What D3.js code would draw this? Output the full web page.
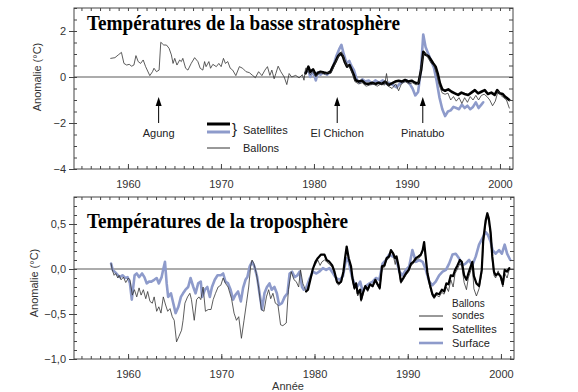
<!DOCTYPE html>
<html><head><meta charset="utf-8">
<script src="https://cdn.jsdelivr.net/npm/d3@7"></script>
<style>
body{margin:0;background:#fff}
svg{display:block}
text{font-family:"Liberation Sans",Arial,sans-serif}
</style>
</head><body>
<svg id="chart" width="578" height="392"></svg>
<script>
// ---------- DATA ----------
const yearTicks = [1960, 1970, 1980, 1990, 2000];
const stratoTicks = [-4, -2, 0, 2];
const tropoTicks = [-1, -0.5, 0, 0.5];

const stratoTitle = "Températures de la basse stratosphère";
const tropoTitle = "Températures de la troposphère";

const volcanoes = [
  {name: "Agung", year: 1963.3},
  {name: "El Chichon", year: 1982.5},
  {name: "Pinatubo", year: 1991.7}
];

// Lower stratosphere – radiosondes (Ballons)
const stratoBallons = [
 [1958.15,0.81],[1958.6,0.84],[1958.96,0.96],[1959.3,1.07],[1959.57,0.59],[1959.86,0.52],[1960.14,0.55],[1960.4,0.47],
 [1960.64,0.52],[1960.86,0.93],[1961.1,0.67],[1961.36,0.59],[1961.64,0.74],[1961.9,0.45],[1962.35,0.06],[1962.64,0.23],
 [1962.8,0.38],[1963.07,0.23],[1963.35,0.30],[1963.53,1.51],[1963.85,1.39],[1964.14,1.39],[1964.42,1.25],[1964.67,0.96],
 [1964.85,0.59],[1965.03,0.81],[1965.27,0.52],[1965.56,0.74],[1965.74,0.67],[1965.9,0.81],[1966.2,0.38],[1966.45,0.30],
 [1966.8,0.59],[1967.17,0.84],[1967.52,0.67],[1967.77,0.38],[1968.05,0.30],[1968.24,0.67],[1968.4,0.45],[1968.7,0.67],
 [1968.88,0.38],[1969.13,0.55],[1969.5,0.45],[1969.77,0.59],[1970.02,0.45],[1970.27,0.81],[1970.48,0.59],[1970.73,0.67],
 [1971.0,0.38],[1971.26,0.30],[1971.6,0.06],[1971.98,0.45],[1972.33,0.38],[1972.7,0.23],[1973.05,0.19],[1973.4,0.07],
 [1973.7,-0.03],[1974.05,0.23],[1974.4,0.06],[1974.73,0.30],[1975.0,0.45],[1975.26,0.07],[1975.47,0.30],[1975.72,-0.08],
 [1975.9,0.15],[1976.15,0.47],[1976.44,0.23],[1976.8,0.0],[1977.08,-0.33],[1977.33,0.15],[1977.6,0.0],[1978.04,0.07],
 [1978.4,-0.04],[1978.75,0.10],[1978.93,-0.14],[1979.1,0.38],[1979.3,0.30],[1979.6,0.10],[1979.9,0.25],[1980.2,0.0],
 [1980.5,0.15],[1980.8,0.20],[1981.1,0.12],[1981.5,0.20],[1981.8,0.15],[1982.1,0.40],[1982.4,0.70],[1982.7,0.95],
 [1982.95,1.10],[1983.2,0.85],[1983.5,0.50],[1983.8,0.45],[1984.1,0.20],[1984.4,-0.20],[1984.8,-0.30],[1985.2,-0.25],
 [1985.6,-0.40],[1986.0,-0.35],[1986.4,-0.30],[1986.8,-0.40],[1987.2,-0.30],[1987.6,-0.35],[1987.8,0.15],[1988.0,-0.40],
 [1988.4,-0.50],[1988.8,-0.30],[1989.1,-0.60],[1989.4,-0.30],[1989.8,-0.20],[1990.2,-0.30],[1990.6,-0.25],[1991.0,-0.35],
 [1991.3,-0.20],[1991.55,0.50],[1991.8,1.00],[1992.0,1.05],[1992.3,0.80],[1992.6,0.60],[1992.9,0.50],[1993.2,0.10],
 [1993.5,-0.40],[1993.8,-0.70],[1994.1,-0.75],[1994.4,-0.70],[1994.7,-1.00],[1995.0,-0.85],[1995.3,-1.05],[1995.6,-0.90],
 [1995.9,-1.15],[1996.2,-0.90],[1996.5,-1.10],[1996.8,-0.85],[1997.1,-1.00],[1997.4,-0.80],[1997.7,-1.00],[1998.0,-0.80],
 [1998.3,-0.75],[1998.6,-0.85],[1998.9,-1.00],[1999.2,-1.25],[1999.5,-1.05],[1999.8,-0.60],[2000.1,-0.80],[2000.4,-0.90],
 [2000.7,-1.00],[2001.0,-1.35]
];

// Lower stratosphere – satellites, black record
const stratoSatBlack = [
 [1979.1,0.16],[1979.4,0.45],[1979.6,0.23],[1979.9,0.33],[1980.2,0.09],[1980.46,0.19],[1980.7,0.23],[1981.07,0.19],
 [1981.4,0.16],[1981.78,0.23],[1982.03,0.45],[1982.32,0.67],[1982.6,0.91],[1982.86,1.03],[1983.1,0.91],[1983.3,0.67],
 [1983.56,0.45],[1983.82,0.52],[1984.03,0.33],[1984.28,0.09],[1984.46,-0.13],[1984.8,-0.20],[1985.17,-0.16],[1985.5,-0.28],
 [1985.9,-0.30],[1986.24,-0.25],[1986.6,-0.30],[1986.95,-0.25],[1987.3,-0.30],[1987.67,-0.20],[1988.02,-0.35],[1988.37,-0.28],
 [1988.74,-0.20],[1989.1,-0.16],[1989.44,-0.20],[1989.8,-0.13],[1990.16,-0.20],[1990.5,-0.16],[1990.88,-0.25],[1991.23,-0.28],
 [1991.52,0.30],[1991.76,1.10],[1992.0,0.97],[1992.3,0.91],[1992.59,0.74],[1992.83,0.59],[1993.08,0.45],[1993.3,0.16],
 [1993.55,-0.28],[1993.8,-0.54],[1994.1,-0.60],[1994.44,-0.54],[1994.8,-0.64],[1995.15,-0.71],[1995.5,-0.78],[1995.86,-0.68],
 [1996.2,-0.74],[1996.58,-0.78],[1996.93,-0.68],[1997.3,-0.57],[1997.65,-0.71],[1998.0,-0.64],[1998.36,-0.57],[1998.7,-0.74],
 [1999.07,-0.68],[1999.43,-0.78],[1999.7,-0.57],[1999.96,-0.71],[2000.3,-0.74],[2000.56,-0.86],[2000.78,-0.93],[2001.0,-1.00]
];

// Lower stratosphere – satellites, blue record
const stratoSatBlue = [
 [1979.1,0.20],[1979.4,0.30],[1979.6,0.00],[1979.9,0.25],[1980.2,-0.15],[1980.4,0.20],[1980.7,0.10],[1981.0,0.20],
 [1981.4,0.10],[1981.8,0.25],[1982.1,0.50],[1982.4,0.90],[1982.7,1.20],[1982.95,1.40],[1983.2,1.00],[1983.5,0.60],
 [1983.8,0.70],[1984.0,0.50],[1984.3,0.30],[1984.6,-0.10],[1984.9,-0.25],[1985.2,-0.10],[1985.5,-0.20],[1985.9,-0.15],
 [1986.2,-0.30],[1986.6,-0.15],[1987.0,-0.25],[1987.4,-0.15],[1987.8,-0.30],[1988.1,-0.25],[1988.5,-0.35],[1988.9,-0.45],
 [1989.2,-0.30],[1989.6,-0.20],[1990.0,-0.15],[1990.3,-0.30],[1990.6,-0.50],[1990.9,-0.80],[1991.2,-0.65],[1991.5,0.30],
 [1991.75,1.85],[1992.0,1.30],[1992.3,1.00],[1992.6,0.70],[1992.9,0.40],[1993.2,-0.20],[1993.5,-0.90],[1993.8,-1.40],
 [1994.1,-1.70],[1994.4,-1.50],[1994.7,-1.45],[1995.0,-1.30],[1995.3,-1.35],[1995.6,-1.40],[1995.9,-1.20],[1996.2,-1.35],
 [1996.5,-1.25],[1996.8,-1.40],[1997.1,-1.30],[1997.4,-1.10],[1997.7,-1.35],[1998.0,-1.20],[1998.2,-1.10]
];

// Troposphere – radiosondes (Ballons sondes)
const tropoBallons = [
 [1958.18,0.06],[1958.3,-0.01],[1958.5,-0.07],[1958.68,-0.05],[1958.9,-0.10],[1959.04,-0.07],[1959.25,-0.12],[1959.5,-0.09],
 [1959.75,-0.15],[1960.03,-0.10],[1960.2,-0.12],[1960.46,-0.29],[1960.68,-0.23],[1960.93,-0.31],[1961.18,-0.21],[1961.4,-0.29],
 [1961.64,-0.23],[1961.9,-0.33],[1962.1,-0.25],[1962.35,-0.36],[1962.6,-0.38],[1962.8,-0.31],[1963.07,-0.47],[1963.3,-0.42],
 [1963.53,-0.49],[1963.78,-0.31],[1964.03,-0.40],[1964.25,-0.47],[1964.5,-0.44],[1964.74,-0.53],[1964.95,-0.57],[1965.2,-0.81],
 [1965.45,-0.75],[1965.74,-0.68],[1965.9,-0.57],[1966.1,-0.38],[1966.38,-0.31],[1966.63,-0.27],[1966.8,-0.34],[1967.1,-0.57],
 [1967.35,-0.34],[1967.6,-0.31],[1967.8,-0.34],[1968.05,-0.20],[1968.3,-0.47],[1968.6,-0.45],[1968.9,-0.45],[1969.13,-0.34],
 [1969.38,-0.27],[1969.66,-0.20],[1969.95,-0.18],[1970.2,-0.10],[1970.45,-0.16],[1970.73,-0.20],[1971.1,-0.33],[1971.37,-0.49],
 [1971.63,-0.57],[1971.87,-0.53],[1972.16,-0.77],[1972.44,-0.57],[1972.7,-0.38],[1972.94,-0.20],[1973.15,0.03],[1973.3,0.10],
 [1973.5,0.06],[1973.76,-0.05],[1974.0,-0.20],[1974.3,-0.45],[1974.58,-0.47],[1974.84,-0.31],[1975.08,-0.23],[1975.3,-0.33],
 [1975.54,-0.27],[1975.8,-0.38],[1976.08,-0.40],[1976.36,-0.62],[1976.6,-0.63],[1976.97,-0.60],[1977.2,-0.23],[1977.5,-0.03],
 [1977.8,-0.12],[1978.04,-0.14],[1978.3,-0.20],[1978.5,-0.01],[1978.75,-0.16],[1979.1,-0.25],[1979.3,-0.20],[1979.55,-0.10],
 [1979.82,0.00],[1980.1,0.05],[1980.35,0.10],[1980.6,0.04],[1980.8,0.08],[1981.07,0.10],[1981.3,0.08],[1981.6,0.05],
 [1981.9,0.02],[1982.14,-0.05],[1982.4,-0.16],[1982.6,-0.18],[1982.86,-0.15],[1983.1,-0.05],[1983.3,0.12],[1983.45,0.22],
 [1983.67,0.10],[1983.92,0.00],[1984.1,-0.14],[1984.28,-0.23],[1984.46,-0.18],[1984.63,-0.30],[1984.9,-0.25],[1985.0,-0.36],
 [1985.24,-0.27],[1985.45,-0.20],[1985.7,-0.25],[1985.96,-0.18],[1986.24,-0.20],[1986.52,-0.14],[1986.77,-0.19],[1987.0,-0.23],
 [1987.24,0.01],[1987.5,0.02],[1987.74,0.10],[1988.0,0.12],[1988.2,0.20],[1988.45,0.15],[1988.66,0.05],[1988.8,0.12],
 [1989.02,0.00],[1989.27,-0.16],[1989.52,-0.12],[1989.8,-0.07],[1990.1,-0.03],[1990.36,0.04],[1990.6,0.06],[1990.88,0.10],
 [1991.16,0.12],[1991.4,0.14],[1991.6,0.19],[1991.76,0.28],[1991.94,0.10],[1992.12,-0.07],[1992.37,-0.20],[1992.65,-0.30],
 [1992.83,-0.33],[1993.08,-0.29],[1993.37,-0.31],[1993.66,-0.26],[1993.9,-0.28],[1994.15,-0.20],[1994.37,-0.25],[1994.62,-0.12],
 [1994.87,-0.20],[1995.08,-0.05],[1995.33,0.00],[1995.6,0.06],[1995.8,0.03],[1996.05,-0.15],[1996.3,-0.23],[1996.5,-0.10],
 [1996.76,-0.02],[1996.93,0.04],[1997.1,-0.22],[1997.37,-0.30],[1997.65,-0.22],[1997.94,-0.05],[1998.1,0.28],[1998.36,0.50],
 [1998.54,0.58],[1998.7,0.52],[1998.9,0.35],[1999.07,0.10],[1999.25,-0.07],[1999.43,-0.10],[1999.7,-0.02],[1999.96,-0.10],
 [2000.2,-0.20],[2000.4,-0.05],[2000.66,-0.10],[2000.9,0.00]
];

// Troposphere – satellites
const tropoSatellites = [
 [1979.1,-0.25],[1979.3,-0.23],[1979.55,-0.12],[1979.82,0.00],[1980.1,0.08],[1980.35,0.12],[1980.7,0.16],[1981.07,0.16],
 [1981.3,0.10],[1981.6,0.08],[1981.9,0.04],[1982.14,-0.03],[1982.4,-0.14],[1982.6,-0.16],[1982.86,-0.14],[1983.1,-0.03],
 [1983.3,0.14],[1983.45,0.25],[1983.67,0.12],[1983.92,0.03],[1984.1,-0.12],[1984.28,-0.21],[1984.46,-0.16],[1984.63,-0.27],
 [1984.9,-0.23],[1985.0,-0.34],[1985.24,-0.25],[1985.45,-0.19],[1985.7,-0.23],[1985.96,-0.17],[1986.24,-0.19],[1986.52,-0.12],
 [1986.77,-0.17],[1987.0,-0.21],[1987.24,0.03],[1987.5,0.04],[1987.74,0.12],[1988.0,0.14],[1988.2,0.21],[1988.45,0.17],
 [1988.66,0.12],[1988.8,0.14],[1989.02,0.03],[1989.27,-0.14],[1989.52,-0.10],[1989.8,-0.05],[1990.1,-0.01],[1990.36,0.06],
 [1990.6,0.08],[1990.88,0.12],[1991.16,0.14],[1991.4,0.16],[1991.6,0.21],[1991.76,0.30],[1991.94,0.12],[1992.12,-0.05],
 [1992.37,-0.17],[1992.65,-0.28],[1992.83,-0.31],[1993.08,-0.27],[1993.37,-0.28],[1993.66,-0.23],[1993.9,-0.25],[1994.15,-0.16],
 [1994.37,-0.17],[1994.62,-0.07],[1994.87,-0.08],[1995.08,-0.01],[1995.33,0.04],[1995.6,0.10],[1995.8,0.08],[1996.05,-0.07],
 [1996.3,-0.12],[1996.5,-0.05],[1996.76,0.03],[1996.93,0.08],[1997.1,-0.08],[1997.37,-0.16],[1997.65,-0.19],[1997.94,-0.01],
 [1998.1,0.32],[1998.36,0.54],[1998.54,0.62],[1998.7,0.56],[1998.9,0.40],[1999.07,0.14],[1999.25,-0.03],[1999.43,-0.07],
 [1999.7,-0.05],[1999.96,-0.08],[2000.2,-0.17],[2000.4,-0.01],[2000.66,-0.03],[2000.9,0.01]
];

// Troposphere – surface
const tropoSurface = [
 [1958.18,0.06],[1958.35,-0.01],[1958.75,-0.05],[1959.1,-0.09],[1959.4,-0.07],[1959.7,-0.10],[1959.95,-0.09],[1960.2,-0.16],
 [1960.4,-0.34],[1960.7,-0.07],[1960.93,-0.05],[1961.18,-0.09],[1961.5,-0.05],[1961.75,-0.09],[1962.0,-0.16],[1962.25,-0.14],
 [1962.5,-0.14],[1962.8,-0.12],[1963.07,-0.10],[1963.3,-0.16],[1963.6,-0.09],[1963.78,0.00],[1963.96,0.08],[1964.14,-0.16],
 [1964.3,-0.31],[1964.6,-0.27],[1964.85,-0.38],[1965.1,-0.49],[1965.4,-0.42],[1965.67,-0.31],[1965.9,-0.27],[1966.16,-0.23],
 [1966.45,-0.20],[1966.7,-0.10],[1967.0,-0.20],[1967.24,-0.27],[1967.52,-0.16],[1967.8,-0.14],[1967.95,-0.31],[1968.24,-0.23],
 [1968.5,-0.20],[1968.77,-0.31],[1969.0,-0.20],[1969.3,-0.12],[1969.6,-0.07],[1969.95,-0.07],[1970.2,-0.05],[1970.45,-0.14],
 [1970.73,-0.16],[1971.0,-0.23],[1971.27,-0.34],[1971.5,-0.29],[1971.8,-0.25],[1972.1,-0.36],[1972.34,-0.21],[1972.6,-0.12],
 [1972.8,-0.09],[1973.05,0.03],[1973.3,0.08],[1973.55,0.03],[1973.85,-0.09],[1974.1,-0.27],[1974.37,-0.45],[1974.63,-0.27],
 [1974.9,-0.20],[1975.17,-0.16],[1975.4,-0.23],[1975.7,-0.20],[1975.96,-0.27],[1976.2,-0.40],[1976.5,-0.38],[1976.8,-0.31],
 [1977.1,-0.27],[1977.33,-0.05],[1977.6,-0.03],[1977.87,-0.09],[1978.16,-0.07],[1978.4,-0.03],[1978.66,-0.20],[1978.85,-0.23],
 [1979.1,-0.21],[1979.5,-0.10],[1979.82,-0.03],[1980.2,-0.05],[1980.5,-0.03],[1980.9,0.01],[1981.25,-0.01],[1981.6,0.01],
 [1982.0,-0.05],[1982.3,-0.10],[1982.7,-0.12],[1983.05,-0.08],[1983.4,0.12],[1983.67,0.08],[1984.0,-0.08],[1984.28,-0.16],
 [1984.63,-0.19],[1984.9,-0.14],[1985.17,-0.25],[1985.5,-0.19],[1985.9,-0.16],[1986.24,-0.14],[1986.6,-0.10],[1986.95,-0.12],
 [1987.3,0.06],[1987.67,0.10],[1988.0,0.16],[1988.37,0.14],[1988.74,0.12],[1989.1,-0.03],[1989.44,-0.07],[1989.8,-0.01],
 [1990.16,0.03],[1990.5,0.21],[1990.88,0.08],[1991.23,0.10],[1991.6,0.08],[1991.94,-0.01],[1992.3,-0.14],[1992.65,-0.18],
 [1993.0,-0.14],[1993.37,-0.07],[1993.74,-0.03],[1994.1,-0.01],[1994.44,0.06],[1994.8,0.16],[1995.15,0.17],[1995.5,0.12],
 [1995.86,0.04],[1996.2,0.06],[1996.58,0.10],[1996.93,0.04],[1997.3,0.14],[1997.65,0.27],[1998.0,0.34],[1998.36,0.41],
 [1998.6,0.38],[1998.9,0.30],[1999.1,0.21],[1999.43,0.17],[1999.8,0.21],[2000.1,0.17],[2000.4,0.27],[2000.66,0.17],
 [2001.0,0.10]
];

// ---------- DRAWING ----------
const BLUE = "#8e9bcb";
const svg = d3.select("#chart");
const locale = d3.formatLocale({decimal: ",", thousands: " ", grouping: [3], currency: ["", "€"], minus: "\u2212"});
const years = d3.range(1955, 2002);
const xDomain = [1954.2, 2001.4];

function drawPanel(o) {
  const x = d3.scaleLinear().domain(xDomain).range([o.left, o.right]);
  const y = d3.scaleLinear().domain(o.yDomain).range([o.bottom, o.top]);
  const g = svg.append("g");

  // zero line
  g.append("line").attr("x1", o.left).attr("x2", o.right)
    .attr("y1", y(0)).attr("y2", y(0)).attr("stroke", "#5a5a5a").attr("stroke-width", 1.1);

  // series
  const line = d3.line().x(d => x(d[0])).y(d => y(d[1]));
  o.series.forEach(s => {
    g.append("path").datum(s.data).attr("d", line).attr("fill", "none")
      .attr("stroke", s.color).attr("stroke-width", s.width)
      .attr("stroke-linejoin", "round").attr("stroke-linecap", "round");
  });

  const axisStyle = sel => {
    sel.select(".domain").remove();
    sel.selectAll("line").attr("stroke", "#444").attr("stroke-width", 1);
    sel.selectAll("text").attr("fill", "#333").attr("font-size", 11)
      .style("font-family", "'Liberation Sans',Arial,sans-serif");
  };

  // x minor ticks bottom and top
  g.append("g").attr("transform", `translate(0,${o.bottom})`)
    .call(d3.axisBottom(x).tickValues(years).tickSize(-3).tickFormat("")).call(axisStyle);
  g.append("g").attr("transform", `translate(0,${o.top})`)
    .call(d3.axisTop(x).tickValues(years).tickSize(-3).tickFormat("")).call(axisStyle);
  // x labels
  g.append("g").attr("transform", `translate(0,${o.bottom})`)
    .call(d3.axisBottom(x).tickValues(yearTicks).tickSize(-5).tickPadding(11).tickFormat(d3.format("d")))
    .call(axisStyle);

  // y minor ticks left/right
  const minor = d3.range(o.yDomain[0], o.yDomain[1] + 1e-9, o.minorStep).map(v => +v.toFixed(3));
  g.append("g").attr("transform", `translate(${o.left},0)`)
    .call(d3.axisLeft(y).tickValues(minor).tickSize(-3).tickFormat("")).call(axisStyle);
  g.append("g").attr("transform", `translate(${o.right},0)`)
    .call(d3.axisRight(y).tickValues(minor).tickSize(-4).tickFormat("")).call(axisStyle);
  // y major ticks with labels
  g.append("g").attr("transform", `translate(${o.left},0)`)
    .call(d3.axisLeft(y).tickValues(o.majors).tickSize(5).tickPadding(3).tickFormat(o.fmt)).call(axisStyle);

  // frame
  g.append("rect").attr("x", o.left).attr("y", o.top)
    .attr("width", o.right - o.left).attr("height", o.bottom - o.top)
    .attr("fill", "none").attr("stroke", "#444").attr("stroke-width", 1);

  // title
  g.append("text").attr("x", o.left + 13).attr("y", o.titleY)
    .style("font-family", "'Liberation Serif','Times New Roman',serif")
    .attr("font-weight", "bold").attr("font-size", 20).attr("fill", "#000")
    .attr("textLength", o.titleLen).attr("lengthAdjust", "spacingAndGlyphs")
    .text(o.title);

  // y label
  g.append("text").attr("transform", `translate(${o.yLabelX},${o.yLabelY}) rotate(-90)`)
    .attr("text-anchor", "middle").attr("font-size", 11).attr("fill", "#333")
    .text("Anomalie (°C)");

  return {x, y, g};
}

// Top panel
const topPanel = drawPanel({
  left: 74, right: 513, top: 8, bottom: 169, yDomain: [-4, 3], minorStep: 0.5,
  majors: stratoTicks, fmt: locale.format("d"),
  title: stratoTitle, titleY: 30, titleLen: 313,
  yLabelX: 41, yLabelY: 77,
  series: [
    {data: stratoSatBlue, color: BLUE, width: 2.6},
    {data: stratoSatBlack, color: "#000", width: 2.6},
    {data: stratoBallons, color: "#333", width: 0.8}
  ]
});

// volcano annotations
volcanoes.forEach(v => {
  const xv = topPanel.x(v.year);
  topPanel.g.append("line").attr("x1", xv).attr("x2", xv).attr("y1", 104).attr("y2", 123)
    .attr("stroke", "#000").attr("stroke-width", 1);
  topPanel.g.append("path").attr("d", `M${xv},97 L${xv - 3},106 L${xv + 3},106 Z`).attr("fill", "#000");
  topPanel.g.append("text").attr("x", xv).attr("y", 137).attr("text-anchor", "middle")
    .attr("font-size", 11).attr("fill", "#222").text(v.name);
});

// top legend
const tl = topPanel.g.append("g");
tl.append("line").attr("x1", 207).attr("x2", 230).attr("y1", 124).attr("y2", 124).attr("stroke", "#000").attr("stroke-width", 3);
tl.append("line").attr("x1", 207).attr("x2", 230).attr("y1", 132).attr("y2", 132).attr("stroke", BLUE).attr("stroke-width", 3);
tl.append("text").attr("x", 232).attr("y", 134).attr("font-size", 15).attr("fill", "#222").text("}");
tl.append("text").attr("x", 243).attr("y", 134).attr("font-size", 11).attr("fill", "#222").text("Satellites");
tl.append("line").attr("x1", 207).attr("x2", 230).attr("y1", 148).attr("y2", 148).attr("stroke", "#333").attr("stroke-width", 1);
tl.append("text").attr("x", 243).attr("y", 152).attr("font-size", 11).attr("fill", "#222").text("Ballons");

// Bottom panel
const botPanel = drawPanel({
  left: 74, right: 514, top: 197, bottom: 359, yDomain: [-1, 0.8], minorStep: 0.1,
  majors: tropoTicks, fmt: locale.format(".1f"),
  title: tropoTitle, titleY: 228, titleLen: 261,
  yLabelX: 38, yLabelY: 283,
  series: [
    {data: tropoSurface, color: BLUE, width: 2.6},
    {data: tropoBallons, color: "#333", width: 0.8},
    {data: tropoSatellites, color: "#000", width: 2.2}
  ]
});

// bottom legend
const bl = botPanel.g.append("g");
bl.append("line").attr("x1", 419).attr("x2", 443).attr("y1", 316).attr("y2", 316).attr("stroke", "#333").attr("stroke-width", 1);
bl.append("text").attr("x", 452).attr("y", 307).attr("font-size", 10).attr("fill", "#222").text("Ballons");
bl.append("text").attr("x", 452).attr("y", 318.5).attr("font-size", 10).attr("fill", "#222").text("sondes");
bl.append("line").attr("x1", 419).attr("x2", 443).attr("y1", 329).attr("y2", 329).attr("stroke", "#000").attr("stroke-width", 2.6);
bl.append("text").attr("x", 452).attr("y", 333).attr("font-size", 11).attr("fill", "#222").text("Satellites");
bl.append("line").attr("x1", 419).attr("x2", 443).attr("y1", 343).attr("y2", 343).attr("stroke", BLUE).attr("stroke-width", 2.6);
bl.append("text").attr("x", 452).attr("y", 347).attr("font-size", 11).attr("fill", "#222").text("Surface");

// x title
svg.append("text").attr("x", 288).attr("y", 390).attr("text-anchor", "middle")
  .attr("font-size", 11).attr("fill", "#333").text("Année");
</script>
</body></html>
